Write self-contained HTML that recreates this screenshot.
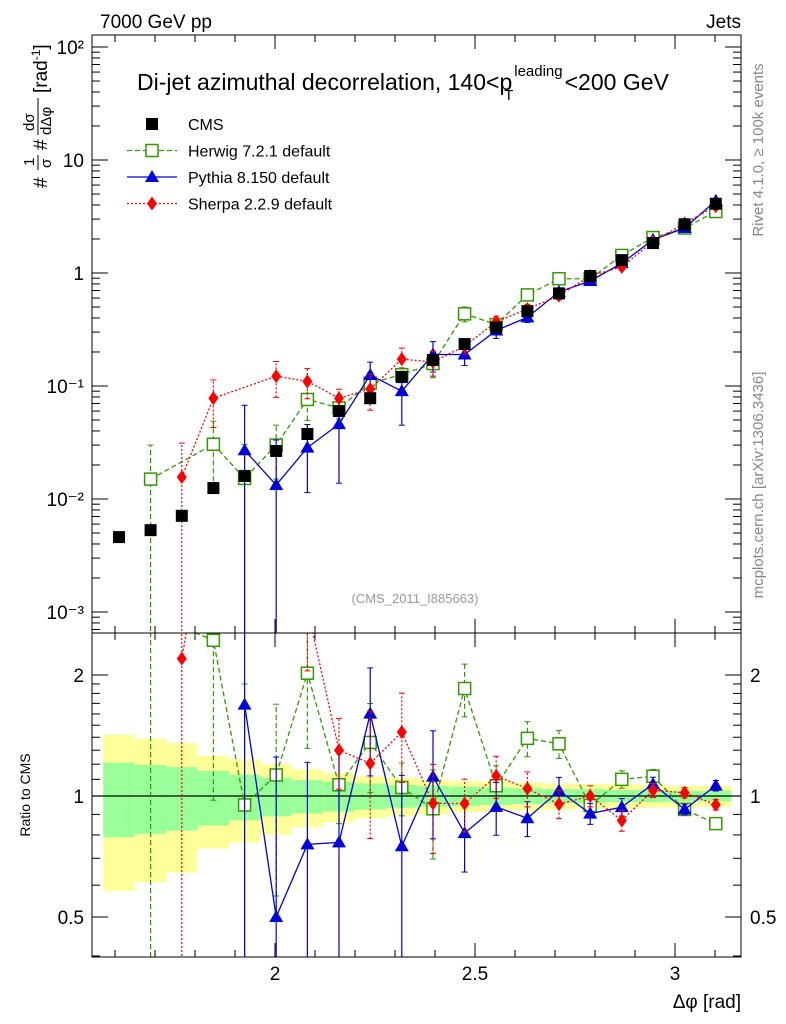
<!DOCTYPE html>
<html><head><meta charset="utf-8"><style>
html,body{margin:0;background:#fff;overflow:hidden;width:786px;height:1024px}
svg{display:block;font-family:"Liberation Sans","DejaVu Sans",sans-serif}
</style></head><body>
<svg id="c" width="786" height="1024" viewBox="0 0 786 1024">
<defs>
<clipPath id="cm"><rect x="92" y="35" width="649" height="598"/></clipPath>
<clipPath id="cr"><rect x="92" y="633" width="649" height="324"/></clipPath>
</defs>
<g id="band" clip-path="url(#cr)"></g>
<g id="ticks"></g>
<line x1="92" y1="796" x2="741" y2="796" stroke="#000" stroke-width="1.3"/>
<g id="marks"></g>
<rect x="92" y="35" width="649" height="598" fill="none" stroke="#000"/>
<rect x="92" y="633" width="649" height="324" fill="none" stroke="#000"/>
<text x="100" y="28" font-size="19">7000 GeV pp</text>
<text x="741" y="28" font-size="19" text-anchor="end">Jets</text>
<g id="title" font-size="23">
<text id="t1" x="137" y="90">Di-jet azimuthal decorrelation, 140&lt;p</text>
<text id="tsup" y="76" font-size="15">leading</text>
<text id="tsub" y="100" font-size="15">T</text>
<text id="t2" y="90">&lt;200 GeV</text>
</g>
<text x="415" y="603" font-size="13" fill="#999" text-anchor="middle">(CMS_2011_I885663)</text>
<text transform="translate(763,150) rotate(-90)" font-size="15" fill="#888" text-anchor="middle">Rivet 4.1.0, ≥ 100k events</text>
<text transform="translate(763,485) rotate(-90)" font-size="15" fill="#888" text-anchor="middle">mcplots.cern.ch [arXiv:1306.3436]</text>
<g transform="translate(47,270) rotate(-90)">
<text x="82" y="0" font-size="19">#</text>
<text x="104" y="-13" font-size="15">1</text>
<line x1="100" y1="-9" x2="115" y2="-9" stroke="#000" stroke-width="1"/>
<text x="102" y="4" font-size="15">σ</text>
<text x="120" y="0" font-size="19">#</text>
<text x="139" y="-13" font-size="15">dσ</text>
<line x1="135" y1="-9" x2="172" y2="-9" stroke="#000" stroke-width="1"/>
<text x="135" y="4" font-size="15">dΔφ</text>
<text x="177" y="0" font-size="19">[rad<tspan font-size="12" dy="-7">-1</tspan><tspan dy="7">]</tspan></text>
</g>
<text transform="translate(30,795) rotate(-90)" font-size="14" text-anchor="middle">Ratio to CMS</text>
<text x="741" y="1008" font-size="19" text-anchor="end">Δφ [rad]</text>
<g id="legend"></g>
</svg>
<script>
const xc=[1.610,1.689,1.767,1.846,1.924,2.003,2.081,2.160,2.238,2.317,2.395,2.474,2.553,2.631,2.710,2.788,2.867,2.945,3.024,3.102];
const cms=[0.0046,0.0053,0.0071,0.0125,0.016,0.0266,0.0376,0.060,0.078,0.12,0.17,0.235,0.33,0.46,0.66,0.94,1.3,1.84,2.7,4.1];
const cmsErr=[0.0004,0.0004,0.0005,0.0008,0.001,0.0015,0.002,0.003,0.004,0.006,0.008,0.01,0.013,0.017,0.022,0.03,0.04,0.05,0.07,0.1];
const herwig=[null,0.015,null,0.0305,0.0152,0.030,0.076,0.064,0.106,0.126,0.158,0.435,0.35,0.64,0.89,0.89,1.43,2.06,2.5,3.5];
const herwigRelErr=[0,1.0,0,0.6,1.0,0.5,0.35,0.2,0.25,0.15,0.25,0.15,0.12,0.1,0.08,0.05,0.05,0.04,0.03,0.03];
const pythia=[null,null,null,null,0.027,0.0133,0.0285,0.046,0.125,0.09,0.19,0.19,0.31,0.405,0.68,0.85,1.22,1.97,2.5,4.35];
const pythiaRelErr=[0,0,0,0,1.5,1.5,0.6,0.7,0.3,0.5,0.3,0.2,0.15,0.1,0.08,0.06,0.05,0.04,0.03,0.03];
const sherpa=[null,null,0.0156,0.078,null,0.122,0.11,0.078,0.094,0.173,0.163,0.225,0.37,0.48,0.63,0.94,1.13,1.9,2.75,3.9];
const sherpaRelErr=[0,0,1.0,0.45,0,0.35,0.3,0.2,0.35,0.25,0.25,0.15,0.12,0.1,0.08,0.06,0.06,0.04,0.03,0.03];
const bandTot=[0.42,0.39,0.355,0.26,0.235,0.2,0.165,0.14,0.12,0.11,0.1,0.09,0.085,0.08,0.075,0.07,0.07,0.065,0.06,0.06];
const bandStat=[0.21,0.195,0.18,0.155,0.13,0.11,0.095,0.085,0.075,0.065,0.06,0.055,0.05,0.045,0.04,0.04,0.035,0.035,0.03,0.03];
const xMajor=[2,2.5,3];
const yMainLabels=["10⁻³","10⁻²","10⁻¹","1","10","10²"];
const yRatioTicks=[0.5,1,2];

const NS="http://www.w3.org/2000/svg";
const X=v=>275+(v-2)*400;
const Y=v=>273-113*Math.log10(v);
const R=v=>796-121*Math.log2(v);
const bw=Math.PI/40;
function el(t,a,p){const e=document.createElementNS(NS,t);for(const k in a)e.setAttribute(k,a[k]);p.appendChild(e);return e;}
(function(){const t1=document.getElementById('t1'),w=t1.getComputedTextLength(),x=137+w;
 const sup=document.getElementById('tsup'),sub=document.getElementById('tsub');
 sup.setAttribute('x',x+2);sub.setAttribute('x',x-8);
 document.getElementById('t2').setAttribute('x',x+sup.getComputedTextLength()+4);})();
const band=document.getElementById('band'),tk=document.getElementById('ticks'),mk=document.getElementById('marks'),lg=document.getElementById('legend');
xc.forEach((c,i)=>{
 const x0=X(c-bw/2),w=X(c+bw/2)-x0;
 let r=el('rect',{x:x0,y:R(1+bandTot[i]),width:w,height:R(1-bandTot[i])-R(1+bandTot[i]),fill:'#ffff99'},band);
 
 
 r=el('rect',{x:x0,y:R(1+bandStat[i]),width:w,height:R(1-bandStat[i])-R(1+bandStat[i]),fill:'#99ff99'},band);
 
 
});
function tl(x1,y1,x2,y2){el('line',{x1,y1,x2,y2,stroke:'#000','stroke-width':1},tk);}
for(let v=1.6;v<=3.16;v+=0.1){const x=X(v),M=Math.abs(v*2-Math.round(v*2))<0.01,L=M?14:7;
 tl(x,633,x,633-L);tl(x,35,x,35+L);tl(x,957,x,957-L);tl(x,633,x,633+L);}
xMajor.forEach(v=>{const t=el('text',{x:X(v),y:980,'font-size':19,'text-anchor':'middle'},tk);t.textContent=v;
 
 });
for(let d=-4;d<=2;d++)for(let m=1;m<10;m++){const v=m*Math.pow(10,d),y=Y(v);if(y<35||y>633)continue;const L=m==1?16:8;
 tl(92,y,92+L,y);tl(741,y,741-L,y);}
yMainLabels.forEach((s,i)=>{const y=Y(Math.pow(10,i-3));const t=el('text',{x:84,y:y+7,'font-size':19,'text-anchor':'end'},tk);t.textContent=s;
 
 });
for(let v=0.4;v<=2.5;v+=(v<1?0.1:(v<2?0.1:0.5))){const y=R(v);if(y<633||y>957)continue;const M=yRatioTicks.some(t=>Math.abs(t-v)<0.01),L=M?16:8;
 tl(92,y,92+L,y);tl(741,y,741-L,y);}
yRatioTicks.forEach(v=>{const y=R(v);[[84,'end'],[750,'start']].forEach(([x,a])=>{const t=el('text',{x,y:y+7,'font-size':19,'text-anchor':a},tk);t.textContent=v;
 
 });});
const gm=el('g',{'clip-path':'url(#cm)'},mk),gr=el('g',{'clip-path':'url(#cr)'},mk);
function marker(g,type,x,y,col){
 if(type=='sq')el('rect',{x:x-6,y:y-6,width:12,height:12,fill:'#fff',stroke:col,'stroke-width':1.5},g);
 else if(type=='fsq')el('rect',{x:x-6,y:y-6,width:12,height:12,fill:col},g);
 else if(type=='tri')el('polygon',{points:`${x},${y-7} ${x-7},${y+5} ${x+7},${y+5}`,fill:col},g);
 else el('polygon',{points:`${x},${y-7} ${x-5},${y} ${x},${y+7} ${x+5},${y}`,fill:col},g);}
function series(name,vals,rel,col,dash,type){
 const pm=[],pr=[];
 vals.forEach((v,i)=>{if(v==null)return;const x=X(xc[i]);
  const y=Y(v),r=v/cms[i],ry=R(r);pm.push(x+','+y);pr.push(x+','+ry);
  const lo=Math.max(v*(1-rel[i]),1e-6),hi=v*(1+rel[i]);
  el('line',{x1:x,y1:Y(lo),x2:x,y2:Y(hi),stroke:col,'stroke-width':1.2,'stroke-dasharray':dash},gm);
  el('line',{x1:x,y1:R(lo/cms[i]),x2:x,y2:R(hi/cms[i]),stroke:col,'stroke-width':1.2,'stroke-dasharray':dash},gr);
  [Y(lo),Y(hi)].forEach(yy=>el('line',{x1:x-3,y1:yy,x2:x+3,y2:yy,stroke:col},gm));
  [R(lo/cms[i]),R(hi/cms[i])].forEach(yy=>el('line',{x1:x-3,y1:yy,x2:x+3,y2:yy,stroke:col},gr));
 });
 let p=el('polyline',{points:pm.join(' '),fill:'none',stroke:col,'stroke-width':1.3,'stroke-dasharray':dash},gm);
 
 
 p=el('polyline',{points:pr.join(' '),fill:'none',stroke:col,'stroke-width':1.3,'stroke-dasharray':dash},gr);
 
 
 vals.forEach((v,i)=>{if(v==null)return;marker(gm,type,X(xc[i]),Y(v),col);marker(gr,type,X(xc[i]),R(v/cms[i]),col);});
}
series('herwig',herwig,herwigRelErr,'#339900','5,3','sq');
series('pythia',pythia,pythiaRelErr,'#0000dd','','tri');
series('sherpa',sherpa,sherpaRelErr,'#ff0000','2,2','dia');
cms.forEach((v,i)=>{const x=X(xc[i]);el('line',{x1:x,y1:Y(v-cmsErr[i]),x2:x,y2:Y(v+cmsErr[i]),stroke:'#000'},gm);marker(gm,'fsq',x,Y(v),'#000');});
const items=[['CMS','#000','','fsq'],['Herwig 7.2.1 default','#339900','5,3','sq'],['Pythia 8.150 default','#0000dd','','tri'],['Sherpa 2.2.9 default','#ff0000','2,2','dia']];
items.forEach((it,i)=>{const y=124+i*26.5;const g=el('g',{},lg);
 
 
 if(i>0)el('line',{x1:127,y1:y,x2:177,y2:y,stroke:it[1],'stroke-width':1.3,'stroke-dasharray':it[2]},g);
 marker(g,it[3],152,y,it[1]);
 const t=el('text',{x:188,y:y+6,'font-size':16},g);t.textContent=it[0];});
</script>
</body></html>
